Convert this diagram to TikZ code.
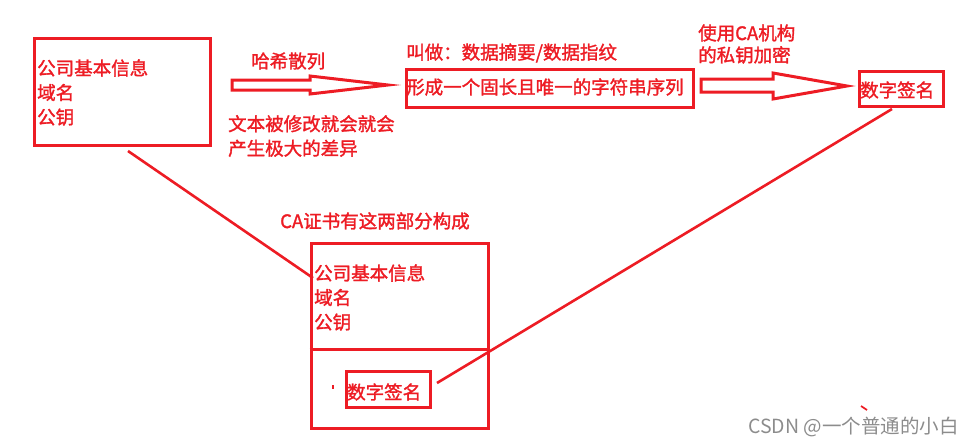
\documentclass[tikz,border=0pt]{standalone}
\usepackage{fontspec}
\newfontfamily\cjk{Noto Sans CJK SC}[FakeBold=1.6]
\newfontfamily\cjkw{Noto Sans CJK SC}
\definecolor{pred}{HTML}{ED1C24}
\definecolor{wm}{HTML}{8C8C8C}
\begin{document}
\begin{tikzpicture}[x=1pt,y=-1pt,
  box/.style={draw=pred, line width=3pt, anchor=north west, inner sep=0pt},
  lbl/.style={text=pred, font=\cjk\fontsize{18.5}{24.5}\selectfont, anchor=west, inner sep=0pt, align=left},
  ln/.style={draw=pred, line width=2.6pt},
  harrow/.style={draw=pred, line width=3pt, line join=miter}]
\useasboundingbox (0,0) rectangle (971,445);
% boxes
\node (b1) [box, minimum width=176.5pt, minimum height=107.5pt] at (32.5,36.5) {};
\node (b2) [box, minimum width=287pt, minimum height=38pt] at (404.5,67.5) {};
\node (b3) [box, minimum width=84pt, minimum height=35pt] at (857.5,69.5) {};
\node (b4) [box, minimum width=177pt, minimum height=185pt] at (309.5,241.5) {};
\node (b5) [box, minimum width=84pt, minimum height=36pt] at (344.5,369.5) {};
\coordinate (dl) at (309.5,349);
\coordinate (dr) at (486.5,349);
\draw[ln, line width=3pt] (dl) -- (dr);
% texts
\node (t1) [lbl] at (37,92.5) {公司基本信息\\域名\\公钥};
\node (t2) [lbl] at (251,61) {哈希散列};
\node (t3) [lbl] at (228,136) {文本被修改就会就会\\产生极大的差异};
\node (t4) [lbl] at (406,53) {叫做：数据摘要/数据指纹};
\node (t5) [lbl] at (406,87) {形成一个固长且唯一的字符串序列};
\node (t6) [lbl, font=\cjk\fontsize{18.5}{22}\selectfont] at (698,44) {使用CA机构\\的私钥加密};
\node (t7) [lbl] at (860,90) {数字签名};
\node (t8) [lbl] at (280,221) {CA证书有这两部分构成};
\node (t9) [lbl] at (314,297.5) {公司基本信息\\域名\\公钥};
\node (t10) [lbl] at (347,392) {数字签名};
\node (wmk) [anchor=west, inner sep=0pt, text=wm, font=\cjkw\fontsize{19.5}{21}\selectfont] at (748,427) {CSDN @一个普通的小白};
% hollow arrows
\draw[harrow] (232,80) -- (310,80) -- (310,76) -- (388,85) -- (310,94) -- (310,90) -- (232,90) -- cycle;
\draw[harrow] (701,79) -- (773,79) -- (773,73) -- (847,86) -- (773,99) -- (773,92) -- (701,92) -- cycle;
% connector lines
\coordinate (l1a) at (128,151);
\coordinate (l1b) at (313,278);
\coordinate (l2a) at (892,109);
\coordinate (l2b) at (437,383);
\draw[ln] (l1a) -- (l1b);
\draw[ln] (l2a) -- (l2b);
% stray marks
\coordinate (s1a) at (333,385);
\coordinate (s1b) at (333,389);
\draw[ln, line width=1.5pt] (s1a) -- (s1b);
\coordinate (s2a) at (861,406);
\coordinate (s2b) at (867,410);
\draw[ln, line width=1.8pt] (s2a) -- (s2b);
\end{tikzpicture}
\end{document}
